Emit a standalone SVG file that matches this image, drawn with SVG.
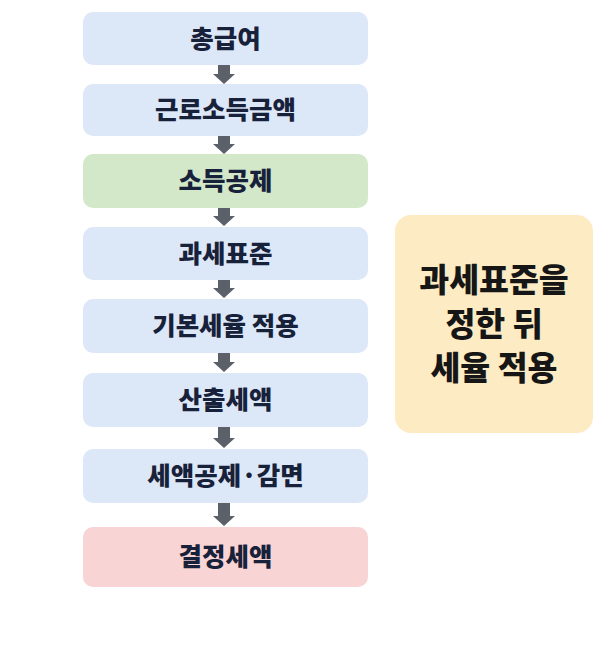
<svg xmlns="http://www.w3.org/2000/svg" width="607" height="668" viewBox="0 0 607 668">
<defs>
<style>
.box{stroke:none}
.blue{fill:#dce8f8}
.green{fill:#d2e8c9}
.pink{fill:#f8d4d5}
.yellow{fill:#fdebc4}
.lbl{font-family:"Noto Sans CJK KR","Noto Sans",sans-serif;font-weight:900;font-size:25.5px;fill:#18213a;text-anchor:middle}
.big{font-family:"Noto Sans CJK KR","Noto Sans",sans-serif;font-weight:900;font-size:32.5px;fill:#161616;text-anchor:middle}
.arr{fill:#5c6068}
</style>
</defs>
<rect width="607" height="668" fill="#ffffff"/>
<g id="n1"><rect class="box blue" x="83" y="12" width="285" height="53" rx="10"/><text class="lbl" x="225.5" y="47.5">총급여</text></g>
<g id="n2"><rect class="box blue" x="83" y="84" width="285" height="52" rx="10"/><text class="lbl" x="225.5" y="119">근로소득금액</text></g>
<g id="n3"><rect class="box green" x="83" y="154" width="285" height="54" rx="10"/><text class="lbl" x="225.5" y="190">소득공제</text></g>
<g id="n4"><rect class="box blue" x="83" y="227" width="285" height="53" rx="10"/><text class="lbl" x="225.5" y="262.5">과세표준</text></g>
<g id="n5"><rect class="box blue" x="83" y="299" width="285" height="54" rx="10"/><text class="lbl" x="225.5" y="335">기본세율 적용</text></g>
<g id="n6"><rect class="box blue" x="83" y="373" width="285" height="54" rx="10"/><text class="lbl" x="225.5" y="409">산출세액</text></g>
<g id="n7"><rect class="box blue" x="83" y="449" width="285" height="54" rx="10"/><text class="lbl" x="225.5" y="485">세액공제·감면</text></g>
<g id="n8"><rect class="box pink" x="83" y="527" width="285" height="60" rx="10"/><text class="lbl" x="225.5" y="566">결정세액</text></g>
<g id="note"><rect class="box yellow" x="395" y="215" width="198" height="218" rx="16"/>
<text class="big" x="494" y="292">과세표준을</text>
<text class="big" x="494" y="336">정한 뒤</text>
<text class="big" x="494" y="380">세율 적용</text></g>
<g id="connectors">
<path class="arr" d="M218,65 h12 v9 h5 l-11,10 l-11,-10 h5 z"/>
<path class="arr" d="M218,136 h12 v8 h5 l-11,10 l-11,-10 h5 z"/>
<path class="arr" d="M218,208 h12 v8 h5 l-11,10 l-11,-10 h5 z"/>
<path class="arr" d="M218,280 h12 v8 h5 l-11,10 l-11,-10 h5 z"/>
<path class="arr" d="M218,353 h12 v9 h5 l-11,10 l-11,-10 h5 z"/>
<path class="arr" d="M218,427 h12 v11 h5 l-11,10 l-11,-10 h5 z"/>
<path class="arr" d="M218,503 h12 v13 h5 l-11,10 l-11,-10 h5 z"/>
</g>
</svg>
